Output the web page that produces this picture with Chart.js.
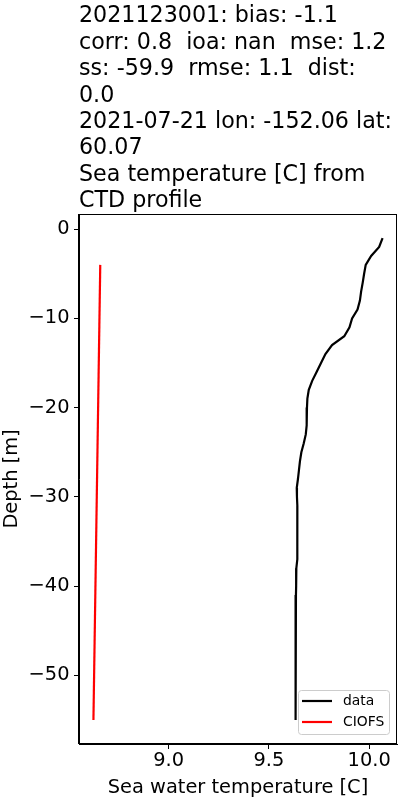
<!DOCTYPE html>
<html>
<head>
<meta charset="utf-8">
<script src="https://cdn.jsdelivr.net/npm/chart.js@4"></script>
<style>
html, body { margin: 0; padding: 0; background: #fff; }
#wrap { width: 400px; height: 800px; }
</style>
</head>
<body>
<div id="wrap"><canvas id="profile" width="400" height="800"></canvas></div>
<script>
var titleLines = [
    "2021123001: bias: -1.1",
    "corr: 0.8  ioa: nan  mse: 1.2",
    "ss: -59.9  rmse: 1.1  dist:",
    "0.0",
    "2021-07-21 lon: -152.06 lat:",
    "60.07",
    "Sea temperature [C] from",
    "CTD profile"
];

// CTD cast (black)
var depth = [-1, -2, -3, -4, -5, -6, -7, -8, -9, -10,
    -11, -12, -13, -14, -15, -16, -17, -18, -19, -20,
    -21, -22, -23, -24, -25, -26, -27, -28, -29, -30,
    -31, -32, -33, -34, -35, -36, -37, -38, -39, -40,
    -41, -42, -43, -44, -45, -46, -47, -48, -49, -50,
    -51, -52, -53, -54, -55];
var dataTemp = [10.067, 10.050, 10.010, 9.983, 9.975, 9.968, 9.960, 9.954, 9.942, 9.915,
    9.902, 9.876, 9.815, 9.782, 9.760, 9.738, 9.716, 9.699, 9.692, 9.690,
    9.689, 9.688, 9.684, 9.674, 9.662, 9.655, 9.650, 9.645, 9.639, 9.640,
    9.642, 9.642, 9.642, 9.642, 9.642, 9.642, 9.641, 9.637, 9.636, 9.636,
    9.635, 9.635, 9.635, 9.634, 9.634, 9.634, 9.633, 9.633, 9.633, 9.633,
    9.633, 9.632, 9.632, 9.632, 9.632];

// model (red)
var ciofsDepth = [-4, -55];
var ciofsTemp = [8.659, 8.625];

var xTicks = [9.0, 9.5, 10.0];
var yTicks = [0, -10, -20, -30, -40, -50];

var FONT = "'DejaVu Sans', sans-serif";

function pairs(xs, ys) {
    return xs.map(function(x, i) {
        return { x: x, y: ys[i] };
    });
}

var titlePlugin = {
    id: 'mplTitle',
    afterDraw: function(chart) {
        var c = chart.ctx;
        c.save();
        c.fillStyle = '#000';
        c.font = "22.2px " + FONT;
        c.textAlign = 'left';
        c.textBaseline = 'alphabetic';
        titleLines.forEach(function(t, i) {
            c.fillText(t, chart.chartArea.left, 22.3 + i * 26.4);
        });
        c.restore();
    }
};

var framePlugin = {
    id: 'frame',
    afterDraw: function(chart) {
        var a = chart.chartArea, c = chart.ctx;
        c.save();
        c.strokeStyle = '#000';
        c.lineWidth = 1;
        c.strokeRect(Math.round(a.left) - 0.5, Math.round(a.top) + 0.5,
            Math.round(a.right - a.left), Math.round(a.bottom - a.top) - 1);
        c.restore();
    }
};

var legendPlugin = {
    id: 'innerLegend',
    afterDraw: function(chart) {
        var a = chart.chartArea, c = chart.ctx;
        var w = 91, h = 44;
        var x = a.right - 8 - w, y = a.bottom - 10 - h;
        c.save();
        c.beginPath();
        c.roundRect(x + 0.5, y + 0.5, w, h, 3);
        c.fillStyle = 'rgba(255,255,255,0.8)';
        c.fill();
        c.strokeStyle = '#cccccc';
        c.lineWidth = 1;
        c.stroke();
        c.font = "13.9px " + FONT;
        c.textBaseline = 'middle';
        chart.data.datasets.forEach(function(ds, i) {
            var yy = y + 11 + i * 21;
            c.beginPath();
            c.moveTo(x + 4, yy);
            c.lineTo(x + 34, yy);
            c.strokeStyle = ds.borderColor;
            c.lineWidth = 2.2;
            c.stroke();
            c.fillStyle = '#000';
            c.fillText(ds.label, x + 45, yy);
        });
        c.restore();
    }
};

var tickFont = { family: FONT, size: 19.4 };

var ctx = document.getElementById('profile').getContext('2d');
var chart = new Chart(ctx, {
    type: 'scatter',
    data: {
        datasets: [{
            label: 'data',
            data: pairs(dataTemp, depth),
            showLine: true,
            borderColor: '#000000',
            borderWidth: 2.2,
            pointRadius: 0,
            fill: false
        }, {
            label: 'CIOFS',
            data: pairs(ciofsTemp, ciofsDepth),
            showLine: true,
            borderColor: '#ff0000',
            borderWidth: 2.2,
            pointRadius: 0,
            fill: false
        }]
    },
    options: {
        responsive: false,
        animation: false,
        devicePixelRatio: 1,
        layout: { padding: { top: 214, right: 3, left: 0, bottom: 0 } },
        plugins: {
            legend: { display: false },
            tooltip: { enabled: false },
            title: { display: false }
        },
        scales: {
            x: {
                type: 'linear',
                position: 'bottom',
                min: 8.553,
                max: 10.139,
                afterBuildTicks: function(s) {
                    s.ticks = xTicks.map(function(v) { return { value: v }; });
                },
                afterFit: function(s) { s.height = 56; },
                ticks: {
                    color: '#000',
                    font: tickFont,
                    padding: 0,
                    maxRotation: 0,
                    callback: function(v) { return Number(v).toFixed(1); }
                },
                grid: {
                    drawOnChartArea: false,
                    drawTicks: true,
                    tickLength: 5,
                    tickColor: '#000',
                    tickWidth: 1
                },
                border: { display: true, color: '#000', width: 1 },
                title: {
                    display: true,
                    text: 'Sea water temperature [C]',
                    color: '#000',
                    font: tickFont,
                    padding: { top: 4, bottom: 0 }
                }
            },
            y: {
                type: 'linear',
                min: -57.7,
                max: 1.7,
                afterBuildTicks: function(s) {
                    s.ticks = yTicks.map(function(v) { return { value: v }; });
                },
                afterFit: function(s) { s.width = 79; },
                ticks: {
                    color: '#000',
                    font: tickFont,
                    padding: 4.5,
                    callback: function(v) { return String(v).replace('-', '\u2212'); }
                },
                grid: {
                    drawOnChartArea: false,
                    drawTicks: true,
                    tickLength: 5,
                    tickColor: '#000',
                    tickWidth: 1
                },
                border: { display: true, color: '#000', width: 1 },
                title: {
                    display: true,
                    text: 'Depth [m]',
                    color: '#000',
                    font: tickFont,
                    padding: { top: 0, bottom: 0 }
                }
            }
        }
    },
    plugins: [titlePlugin, framePlugin, legendPlugin]
});
</script>
</body>
</html>
